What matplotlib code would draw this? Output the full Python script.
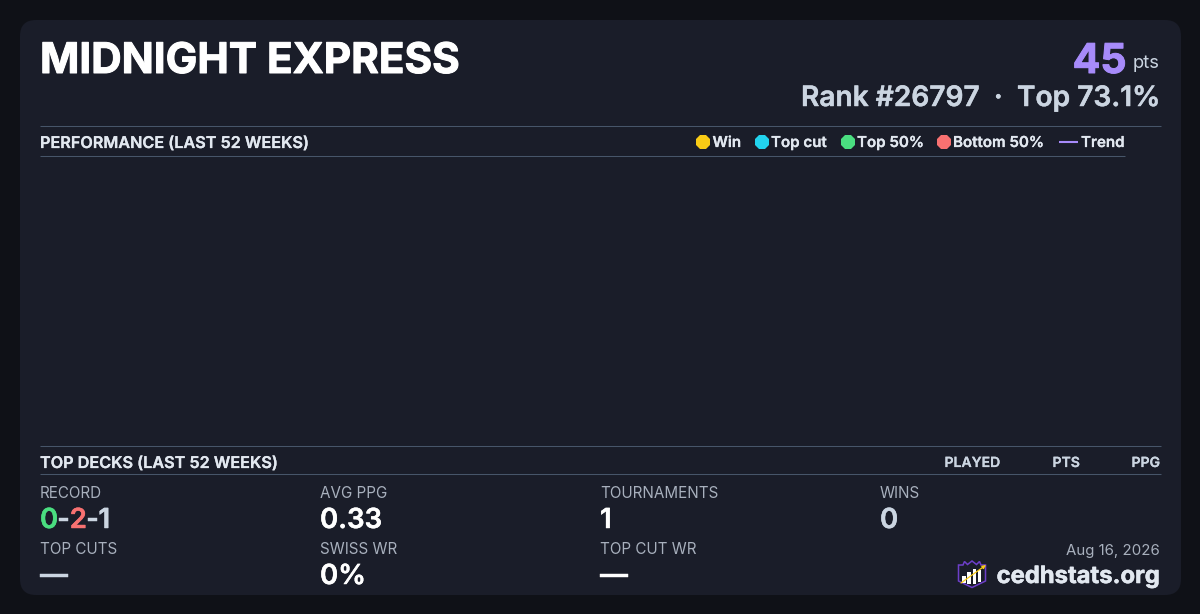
import matplotlib
matplotlib.use("Agg")
import matplotlib.pyplot as plt
import matplotlib.patheffects as pe
from matplotlib.patches import FancyBboxPatch, Polygon, Rectangle

plt.rcParams["font.family"] = ["Inter", "DejaVu Sans"]

# content
player_name = "MIDNIGHT EXPRESS"
points = "45"
rank_text = "Rank #26797  ·  Top 73.1%"
section_performance = "PERFORMANCE (LAST 52 WEEKS)"
section_decks = "TOP DECKS (LAST 52 WEEKS)"
legend_labels = ["Win", "Top cut", "Top 50%", "Bottom 50%"]
legend_colors = ["#facc15", "#22d3ee", "#4ade80", "#f87171"]
deck_columns = ["PLAYED", "PTS", "PPG"]
record_parts = ["0", "-", "2", "-", "1"]
record_colors = ["#4ade80", "#cbd5e1", "#f87171", "#cbd5e1", "#cbd5e1"]
stat_labels = ["AVG PPG", "TOURNAMENTS", "WINS", "TOP CUTS", "SWISS WR", "TOP CUT WR"]
stat_values = ["0.33", "1", "0", "—", "0%", "—"]
stat_colors = ["#ffffff", "#ffffff", "#cbd5e1", "#cbd5e1", "#ffffff", "#ffffff"]
date_text = "Aug 16, 2026"
site_text = "cedhstats.org"

BG = "#0f1117"
CARD = "#1a1d29"
RULE = "#475569"
MUTED = "#a8b0bd"
PX = 0.72  # px -> pt at dpi 100
# Inter is installed as a variable font, matplotlib only draws its regular cut
STROKE = {"semibold": 0.016, "bold": 0.024}

fig = plt.figure(figsize=(12, 6.14), dpi=100, facecolor=BG)
ax = fig.add_axes([0, 0, 1, 1])
ax.set_xlim(0, 1200)
ax.set_ylim(614, 0)
ax.axis("off")

ax.add_patch(FancyBboxPatch((20, 20), 1161, 575, boxstyle="round,pad=0,rounding_size=16", lw=0, fc=CARD))


def txt(x, y, s, px, color, weight="normal", ha="left"):
    t = ax.text(x, y, s, fontsize=px * PX, color=color, fontweight=weight, ha=ha, va="baseline")
    if weight in STROKE:
        t.set_path_effects([pe.withStroke(linewidth=px * PX * STROKE[weight], foreground=color)])
    return t


txt(40, 73, player_name, 42.2, "#ffffff", "bold")
txt(1126.5, 73, points, 41, "#a78bfa", "bold", ha="right")
txt(1159.5, 68, "pts", 18.4, "#cbd5e1", ha="right")
txt(1159.5, 106, rank_text, 28.1, "#cbd5e1", "semibold", ha="right")

for y0, x1 in [(126.1, 1161), (156.1, 1125), (446.1, 1161), (474.1, 1161)]:
    ax.plot([40, x1], [y0, y0], color=RULE, lw=0.75, solid_capstyle="butt")

txt(40, 148, section_performance, 16.2, "#e2e8f0", "semibold")
txt(40, 468, section_decks, 16.2, "#e2e8f0", "semibold")

# legend
marker_x = [702.5, 761.7, 847.5, 943.5]
label_x = [712.5, 771, 857, 953]
for mx, lx, lab, col in zip(marker_x, label_x, legend_labels, legend_colors):
    ax.plot(mx, 141.7, "8", ms=10.4, color=col, mew=0)
    txt(lx, 147, lab, 15.1, "#e2e8f0", "semibold")
ax.plot([1059, 1078], [142, 142], color="#a78bfa", lw=1.5, solid_capstyle="butt")
txt(1081, 147, "Trend", 15.1, "#e2e8f0", "semibold")

# deck table head
for x_r, lab in zip([1000, 1080, 1160], deck_columns):
    txt(x_r, 467, lab, 14, "#cbd5e1", "semibold", ha="right")

# stats
txt(40, 497.5, "RECORD", 15.2, MUTED)
rend = fig.canvas.get_renderer()
x_pos = 40
for part, col in zip(record_parts, record_colors):
    t = txt(x_pos, 528, part, 27.6, col, "semibold")
    x_pos = t.get_window_extent(rend).x1 - 0.6

stat_x = [320, 600, 880, 40, 320, 600]
label_y = [497.5, 497.5, 497.5, 553.5, 553.5, 553.5]
value_y = [528, 528, 528, 584, 584, 584]
for x0, ly, vy, lab, val, col in zip(stat_x, label_y, value_y, stat_labels, stat_values, stat_colors):
    txt(x0, ly, lab, 15.2, MUTED)
    txt(x0, vy, val, 27.6, col, "semibold")

# footer
txt(1160, 555, date_text, 15, MUTED, ha="right")
txt(1160, 583, site_text, 23.8, "#e2e8f0", "bold", ha="right")

# logo
ax.add_patch(Polygon([(958.5, 565), (963, 565), (964.5, 561.5), (967.5, 564.5), (972, 561), (976.5, 564.5),
                      (979.5, 561.5), (981, 565), (985.5, 565), (985.5, 581), (972, 587.5), (958.5, 581)],
                     closed=True, fc="none", ec="#6d3fc9", lw=1.1))
for bx, by, by1 in [(962, 576, 583), (967, 572, 584), (972.6, 569, 584), (977.6, 570, 582)]:
    ax.add_patch(Rectangle((bx, by), 3.8, by1 - by, fc="#ffffff", lw=0))
ax.annotate("", xy=(986, 565), xytext=(961, 583),
            arrowprops=dict(arrowstyle="-|>", color="#facc15", lw=0.9, mutation_scale=5, shrinkA=0, shrinkB=0))

fig.savefig("out.png", dpi=100, facecolor=BG)
